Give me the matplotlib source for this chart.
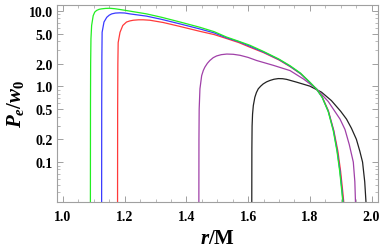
import matplotlib
matplotlib.use("Agg")
import matplotlib.pyplot as plt
from matplotlib.ticker import FixedLocator, NullFormatter

# ---- data ----
r_green = [1.089, 1.0893, 1.0898, 1.0908, 1.093, 1.098, 1.103, 1.109, 1.117, 1.125, 1.138, 1.152, 1.168,
           1.185, 1.217, 1.271, 1.32, 1.38, 1.444, 1.49, 1.53, 1.57, 1.606, 1.65, 1.70, 1.736, 1.77,
           1.80, 1.822, 1.84, 1.86, 1.876, 1.888, 1.897, 1.904, 1.907]
p_green = [0.03, 0.6, 2.0, 4.26, 6.4, 8.6, 9.6, 10.1, 10.45, 10.6, 10.75, 10.8, 10.65,
           10.4, 9.9, 9.1, 8.2, 7.1, 6.05, 5.3, 4.5, 3.95, 3.5, 2.9, 2.3, 1.88, 1.5,
           1.14, 0.92, 0.72, 0.46, 0.26, 0.14, 0.075, 0.04, 0.03]

r_blue = [1.1254, 1.1257, 1.1262, 1.127, 1.133, 1.142, 1.15, 1.158, 1.17, 1.185, 1.20, 1.217, 1.271,
          1.32, 1.38, 1.444, 1.49, 1.53, 1.57, 1.606, 1.65, 1.70, 1.736, 1.77, 1.80, 1.822, 1.84,
          1.86, 1.877, 1.889, 1.898, 1.905, 1.908]
p_blue = [0.03, 0.6, 2.5, 5.2, 7.1, 8.2, 8.75, 9.1, 9.33, 9.4, 9.35, 9.1, 8.5,
          7.7, 6.7, 5.75, 5.1, 4.4, 3.9, 3.4, 2.85, 2.27, 1.85, 1.48, 1.13, 0.92, 0.72,
          0.47, 0.26, 0.14, 0.075, 0.04, 0.03]

r_red = [1.177, 1.1773, 1.178, 1.179, 1.185, 1.194, 1.206, 1.217, 1.228, 1.245, 1.26, 1.282, 1.325,
         1.38, 1.444, 1.49, 1.53, 1.57, 1.606, 1.65, 1.70, 1.736, 1.77, 1.80, 1.822, 1.84, 1.86,
         1.878, 1.891, 1.90, 1.907, 1.91]
p_red = [0.03, 0.5, 2.0, 3.8, 5.2, 6.4, 7.1, 7.35, 7.5, 7.6, 7.6, 7.5, 7.0,
         6.2, 5.35, 4.85, 4.3, 3.8, 3.3, 2.8, 2.24, 1.83, 1.47, 1.13, 0.92, 0.73, 0.48,
         0.26, 0.14, 0.075, 0.04, 0.03]

r_purple = [1.4405, 1.4408, 1.4415, 1.444, 1.4496, 1.455, 1.460, 1.468, 1.476, 1.487, 1.498, 1.513,
            1.531, 1.552, 1.574, 1.60, 1.628, 1.682, 1.736, 1.78, 1.822, 1.86, 1.898, 1.914, 1.928,
            1.941, 1.946, 1.948]
p_purple = [0.03, 0.2, 0.5, 0.93, 1.39, 1.63, 1.8, 2.02, 2.2, 2.4, 2.53, 2.63,
            2.68, 2.66, 2.58, 2.42, 2.2, 1.9, 1.62, 1.25, 0.93, 0.63, 0.37, 0.27, 0.17,
            0.1, 0.055, 0.03]

r_black = [1.612, 1.6123, 1.613, 1.6145, 1.617, 1.622, 1.627, 1.633, 1.641, 1.649, 1.66, 1.671, 1.684,
           1.698, 1.712, 1.725, 1.757, 1.80, 1.838, 1.87, 1.90, 1.919, 1.935, 1.951, 1.962, 1.971,
           1.978, 1.982]
p_black = [0.03, 0.15, 0.3, 0.43, 0.56, 0.72, 0.83, 0.93, 1.01, 1.08, 1.15, 1.2, 1.245,
           1.27, 1.265, 1.24, 1.14, 1.01, 0.84, 0.65, 0.47, 0.37, 0.28, 0.2, 0.14, 0.1,
           0.055, 0.03]

x_ticks = [1.0, 1.2, 1.4, 1.6, 1.8, 2.0]
x_ticklabels = ["1.0", "1.2", "1.4", "1.6", "1.8", "2.0"]
y_ticks = [0.1, 0.2, 0.5, 1.0, 2.0, 5.0, 10.0]
y_ticklabels = ["0.1", "0.2", "0.5", "1.0", "2.0", "5.0", "10.0"]

# ---- style ----
plt.rcParams['mathtext.fontset'] = 'custom'
plt.rcParams['mathtext.rm'] = 'Liberation Serif:bold'
plt.rcParams['mathtext.it'] = 'Liberation Serif:bold:italic'
plt.rcParams['mathtext.bf'] = 'Liberation Serif:bold'

fig = plt.figure(figsize=(3.82, 2.53), dpi=100)
ax = fig.add_axes([0.149, 0.199, 0.8405, 0.777])

lw = 0.9
ax.plot(r_black, p_black, color='#222222', lw=lw)
ax.plot(r_purple, p_purple, color='#a040a8', lw=lw)
ax.plot(r_red, p_red, color='#ff3a3a', lw=lw)
ax.plot(r_blue, p_blue, color='#3a3aff', lw=lw)
ax.plot(r_green, p_green, color='#22ee22', lw=lw)

ax.set_yscale('log')
ax.set_xlim(0.9805, 2.021)
ax.set_ylim(0.030, 11.9)

ax.xaxis.set_major_locator(FixedLocator(x_ticks))
ax.set_xticklabels(x_ticklabels)
ax.xaxis.set_minor_locator(FixedLocator([1.0 + 0.05 * i for i in range(21)]))
ax.yaxis.set_major_locator(FixedLocator(y_ticks))
ax.set_yticklabels(y_ticklabels)
minors = [m * 10.0 ** e for e in (-2, -1, 0) for m in range(2, 10)] + [0.3, 0.4]
ax.yaxis.set_minor_locator(FixedLocator(sorted(set(minors))))
ax.yaxis.set_minor_formatter(NullFormatter())

frame_c = '#a0a0a0'
for s in ax.spines.values():
    s.set_color(frame_c)
    s.set_linewidth(0.8)
ax.tick_params(which='both', direction='in', top=True, right=True, color=frame_c,
               labelsize=10)
ax.tick_params(axis='x', pad=6)
ax.tick_params(axis='y', pad=3)
ax.tick_params(which='major', length=4, width=0.7)
ax.tick_params(which='minor', length=2, width=0.5)
for lab in ax.get_xticklabels() + ax.get_yticklabels():
    lab.set_fontfamily('Liberation Serif')
    lab.set_fontweight('bold')

ax.set_xlabel(r'$r/\mathrm{M}$', fontsize=15, labelpad=3)
ax.set_ylabel(r'$P_e/w_0$', fontsize=15, labelpad=2)

fig.savefig('out.png', dpi=100)
